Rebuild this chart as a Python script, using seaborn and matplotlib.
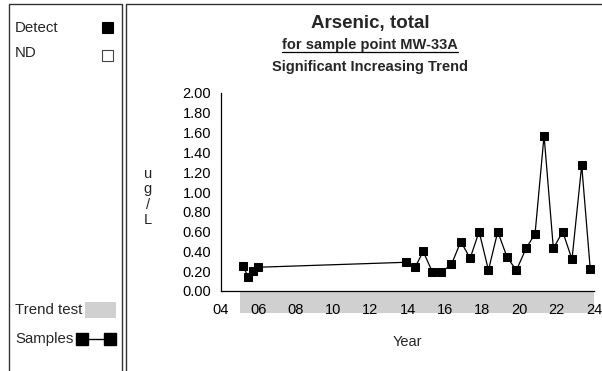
import matplotlib
matplotlib.use("Agg")
import matplotlib.pyplot as plt
import matplotlib.dates as mdates
from matplotlib.patches import Rectangle
import matplotlib.transforms as mtransforms
import pandas as pd
import seaborn as sns

# Arsenic, total results at MW-33A (ug/L)
sample_dates = [
    "2005-03-10", "2005-06-18", "2005-09-24", "2005-12-30",
    "2013-11-28", "2014-05-30", "2014-11-03", "2015-05-05", "2015-10-27",
    "2016-05-11", "2016-11-10", "2017-05-11", "2017-11-03", "2018-05-05",
    "2018-11-03", "2019-05-05", "2019-11-03", "2020-05-11", "2020-11-03",
    "2021-04-28", "2021-10-27", "2022-04-28", "2022-10-27", "2023-05-05",
    "2023-10-20",
]
arsenic = [
    0.25, 0.14, 0.20, 0.24,
    0.29, 0.24, 0.40, 0.19, 0.19,
    0.27, 0.50, 0.33, 0.60, 0.21,
    0.60, 0.34, 0.21, 0.43, 0.58,
    1.57, 0.43, 0.60, 0.32, 1.27,
    0.22,
]
trend_period = ["2005-01-01", "2024-01-01"]
x_range = ["2004-01-01", "2024-01-01"]
y_ticks = [0.0, 0.2, 0.4, 0.6, 0.8, 1.0, 1.2, 1.4, 1.6, 1.8, 2.0]

title = "Arsenic, total"
subtitle = "for sample point MW-33A"
trend_label = "Significant Increasing Trend"

sns.set_theme(style="white")
plt.rcParams["font.family"] = ["Liberation Sans", "DejaVu Sans"]

df = pd.DataFrame({"date": pd.to_datetime(sample_dates), "value": arsenic})

W, H = 602, 371
fig = plt.figure(figsize=(W / 100, H / 100), dpi=100)
fig.patch.set_facecolor("white")

# Background layer in pixel coordinates for panel frames and the key
bg = fig.add_axes([0, 0, 1, 1])
bg.set_xlim(0, W)
bg.set_ylim(H, 0)
bg.axis("off")

frame_kw = dict(color="#333333", lw=1.0)
bg.plot([9, 9, 121.5, 121.5], [H + 2, 4, 4, H + 2], **frame_kw)
bg.plot([126, 126, W + 2], [H + 2, 4, 4], **frame_kw)

key_fs = 10.8
bg.text(15, 27.5, "Detect", fontsize=key_fs, va="center", ha="left")
bg.add_patch(Rectangle((101.5, 21.5), 11, 11, facecolor="black", edgecolor="black", lw=0.8))
bg.text(15, 53, "ND", fontsize=key_fs, va="center", ha="left")
bg.add_patch(Rectangle((101.5, 49.5), 11, 11, facecolor="white", edgecolor="#444444", lw=0.8))
bg.text(15, 310, "Trend test", fontsize=key_fs, va="center", ha="left")
bg.add_patch(Rectangle((85, 301.5), 31, 16.5, facecolor="#d0d0d0", edgecolor="none"))
bg.text(15, 338.5, "Samples", fontsize=key_fs, va="center", ha="left")
bg.plot([82, 110], [338.5, 338.5], color="black", lw=1.0)
bg.plot([82, 110], [338.5, 338.5], ls="none", marker="s", ms=8, color="black")

# Titles
bg.text(370, 23.5, title, fontsize=13.5, fontweight="bold", ha="center", va="center")
sub = bg.text(370, 45, subtitle, fontsize=10.5, fontweight="bold", ha="center", va="center")
bg.text(370, 66.5, trend_label, fontsize=10.5, fontweight="bold", ha="center", va="center")

# underline the subtitle across its drawn width
fig.canvas.draw()
bb = sub.get_window_extent().transformed(bg.transData.inverted())
bg.plot([bb.x0, bb.x1], [51.8, 51.8], color="black", lw=0.9)

# Main plot area
ax = fig.add_axes([221 / W, (H - 291) / H, (594 - 221) / W, 198 / H])
ax.set_facecolor("none")

sns.lineplot(data=df, x="date", y="value", ax=ax, color="black", lw=0.9,
             marker="s", markersize=6.2, markeredgecolor="black",
             markerfacecolor="black", sort=True, legend=False)

ax.set_xlim(pd.to_datetime(x_range[0]), pd.to_datetime(x_range[1]))
ax.set_ylim(0, 2.0)
ax.set_yticks(y_ticks)
ax.set_yticklabels([f"{v:.2f}" for v in y_ticks])

ax.xaxis.set_major_locator(mdates.YearLocator(2))
ax.xaxis.set_minor_locator(mdates.YearLocator(1))
ax.xaxis.set_major_formatter(mdates.DateFormatter("%y"))

for side in ("top", "right"):
    ax.spines[side].set_visible(False)
for side in ("left", "bottom"):
    ax.spines[side].set_color("black")
    ax.spines[side].set_linewidth(0.9)

ax.tick_params(axis="both", which="both", direction="out", color="black",
               width=0.8, labelsize=10.5, labelcolor="black")
ax.tick_params(axis="x", which="both", length=5, pad=3.5)
ax.tick_params(axis="y", length=4, pad=3)

# Trend test period band beneath the time axis
trans = mtransforms.blended_transform_factory(ax.transData, ax.transAxes)
t0 = mdates.date2num(pd.to_datetime(trend_period[0]))
t1 = mdates.date2num(pd.to_datetime(trend_period[1]))
ax.add_patch(Rectangle((t0, -0.111), t1 - t0, 0.111, transform=trans,
                       facecolor="#d0d0d0", edgecolor="none", clip_on=False, zorder=0.5))

ax.set_xlabel("")
ax.set_ylabel("")
bg.text(407, 342, "Year", fontsize=10.5, ha="center", va="center")
bg.text(148, 197, "u\ng\n/\nL", fontsize=10.5, ha="center", va="center",
        multialignment="center", linespacing=1.12)

fig.savefig("out.png", dpi=100, facecolor="white")
